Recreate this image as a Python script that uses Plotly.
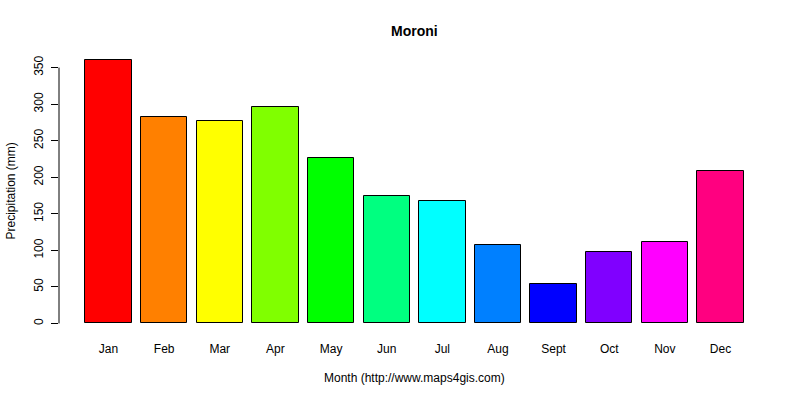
import plotly.graph_objects as go

# monthly precipitation, Moroni (mm)
MONTHS = ["Jan", "Feb", "Mar", "Apr", "May", "Jun", "Jul", "Aug", "Sept", "Oct", "Nov", "Dec"]
PRECIP = [361, 282, 277, 296, 226, 175, 167, 107, 54, 98, 112, 208]
# R rainbow(12)
COLORS = ["#FF0000", "#FF8000", "#FFFF00", "#80FF00", "#00FF00", "#00FF80",
          "#00FFFF", "#0080FF", "#0000FF", "#8000FF", "#FF00FF", "#FF0080"]
Y_TICKS = [0, 50, 100, 150, 200, 250, 300, 350]

FONT = "Liberation Sans, Arial, sans-serif"

# barplot geometry like R: width 1, space 0.2, 4% axis padding
xpos = [0.7 + 1.2 * i for i in range(len(MONTHS))]
x_lo, x_hi = 0.2, 0.2 + 1.2 * len(MONTHS) - 0.2
pad_x = (x_hi - x_lo) * 0.04
ymax = max(PRECIP)
pad_y = ymax * 0.04

fig = go.Figure(go.Bar(
    x=xpos, y=PRECIP, width=1,
    marker=dict(color=COLORS, line=dict(color="black", width=1)),
    hovertemplate="%{y} mm<extra></extra>",
))

fig.update_layout(
    width=800, height=400,
    paper_bgcolor="white", plot_bgcolor="white",
    font=dict(family=FONT, size=12, color="black"),
    margin=dict(l=59, r=30, t=49, b=66),
    showlegend=False,
    bargap=0,
)
fig.update_xaxes(
    range=[x_lo - pad_x, x_hi + pad_x], tickvals=xpos, ticktext=MONTHS,
    showgrid=False, zeroline=False, showline=False, automargin=False,
    ticks="outside", ticklen=4, tickcolor="rgba(0,0,0,0)",
)
fig.update_yaxes(
    range=[-pad_y, ymax + pad_y], tickvals=Y_TICKS, tickangle=-90,
    showgrid=False, zeroline=False, showline=False, automargin=False,
    ticks="outside", ticklen=7, tickwidth=1, tickcolor="black",
    ticklabelstandoff=3,
)
# R style axis line only across the tick range
fig.add_shape(type="line", xref="paper", yref="y", x0=0, x1=0,
              y0=Y_TICKS[0], y1=Y_TICKS[-1], line=dict(color="black", width=1))

fig.add_annotation(text="<b>Moroni</b>", xref="paper", yref="paper", x=0.5, y=1,
                   yanchor="middle", yshift=18, showarrow=False, font=dict(size=14))
fig.add_annotation(text="Month (http://www.maps4gis.com)", xref="paper", yref="paper",
                   x=0.5, y=0, yanchor="middle", yshift=-44, showarrow=False,
                   font=dict(size=12))
fig.add_annotation(text="Precipitation (mm)", xref="paper", yref="paper",
                   x=0, y=0.5, xanchor="center", yanchor="middle", xshift=-49,
                   textangle=-90, showarrow=False, font=dict(size=12))

# drop the default 8px page margin so the figure sits at the window corner
fig.write_html("out.html", config={"displayModeBar": False},
               post_script="document.body.style.margin = '0';")
